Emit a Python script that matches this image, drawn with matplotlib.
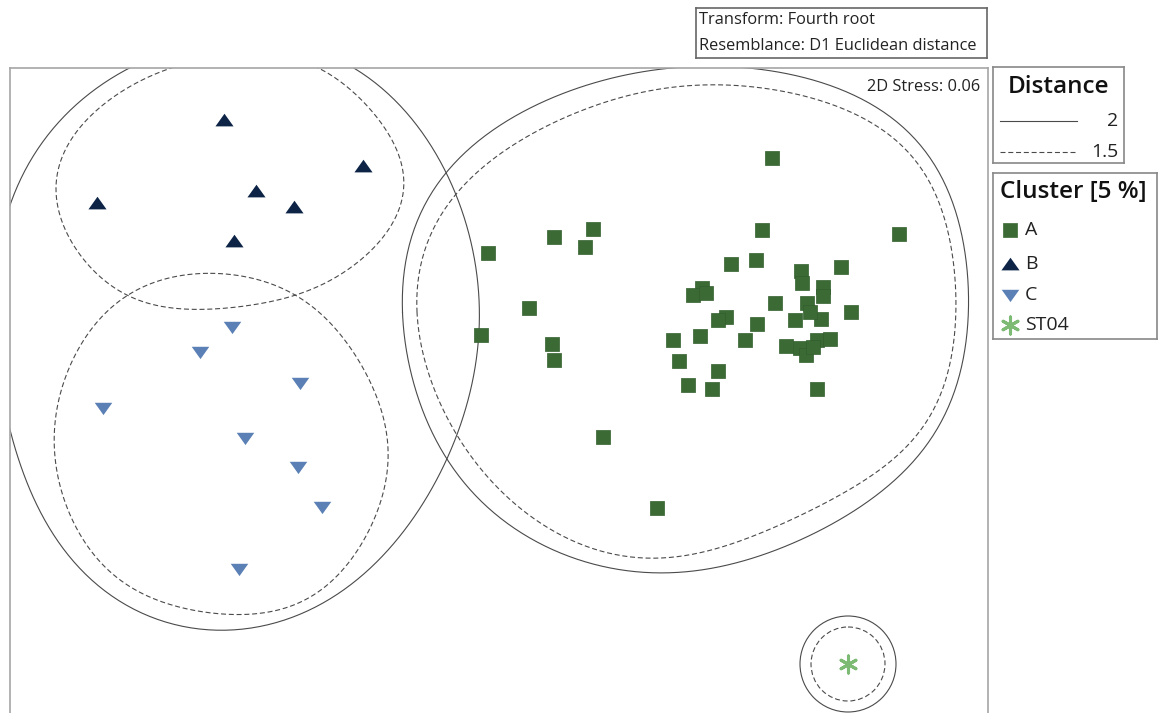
import numpy as np
import matplotlib
matplotlib.use("Agg")
import matplotlib.pyplot as plt
from matplotlib.patches import Circle

plt.rcParams["font.family"] = ["Open Sans", "DejaVu Sans"]

# nMDS ordination coordinates (plot units, y grows downward)
a_x = [772, 762, 899, 488, 554, 593, 585, 529, 481, 552, 554, 731, 756, 801, 841,
       802, 823, 823, 807, 775, 851, 795, 821, 810, 702, 693, 706, 726, 718, 757,
       745, 700, 673, 679, 786, 800, 806, 817, 830, 813, 718, 688, 712, 817, 603, 657]
a_y = [158, 230, 234, 253, 237, 229, 247, 308, 335, 344, 360, 264, 260, 271, 267,
       283, 287, 296, 303, 303, 312, 320, 319, 312, 288, 295, 293, 317, 320, 324,
       340, 336, 340, 361, 346, 348, 355, 340, 339, 347, 371, 385, 389, 389, 437, 508]

b_x = [224, 363, 97, 256, 294, 234]
b_y = [120, 166, 203, 191, 207, 241]

c_x = [232, 200, 300, 103, 245, 298, 322, 239]
c_y = [327, 352, 383, 408, 438, 467, 507, 569]

st04_x = [848]
st04_y = [664]

# cluster overlays: distance 2 (solid) and 1.5 (dashed)
bc_solid_x = [240, 355, 420, 450, 472, 480, 474, 457, 420, 380, 320, 247, 180, 133, 67, 30, 10, -5, 10, 60, 130, 185]
bc_solid_y = [38, 68, 130, 183, 245, 307, 370, 437, 505, 560, 605, 629, 624, 610, 553, 490, 432, 320, 204, 120, 68, 48]

b_dash_x = [245, 320, 367, 395, 402, 397, 367, 297, 210, 127, 80, 56, 67, 97, 173]
b_dash_y = [55, 67, 110, 140, 173, 217, 253, 295, 309, 295, 255, 187, 147, 110, 67]

c_dash_x = [210, 297, 340, 367, 385, 388, 367, 317, 233, 160, 110, 67, 55, 60, 83, 127]
c_dash_y = [274, 295, 335, 377, 420, 460, 533, 593, 615, 600, 573, 507, 440, 390, 343, 295]

a_solid_x = [403, 413, 450, 513, 580, 670, 740, 830, 880, 923, 955, 968, 963, 950, 927, 883, 833, 767, 667, 580, 513, 447, 417]
a_solid_y = [313, 227, 170, 118, 87, 67, 68, 88, 107, 147, 210, 287, 350, 403, 450, 490, 520, 555, 573, 560, 527, 460, 393]

a_dash_x = [417, 425, 463, 520, 580, 697, 800, 880, 930, 950, 953, 947, 937, 900, 850, 780, 677, 580, 500, 457, 425]
a_dash_y = [313, 240, 193, 140, 110, 85, 97, 127, 180, 230, 283, 350, 417, 455, 485, 525, 558, 543, 493, 427, 370]

st04_solid_r = 48
st04_dash_r = 37

green = "#3b6a35"
navy = "#0d2447"
steel = "#5b80b5"
light_green = "#7dbb74"
line_col = "#4a4a4a"


def closed_curve(xs, ys, order=5, n=400):
    # smooth closed outline: low-order Fourier fit over chord-length parameter
    p = np.column_stack([xs, ys]).astype(float)
    seg = np.hypot(*np.diff(np.vstack([p, p[:1]]), axis=0).T)
    t = 2 * np.pi * np.concatenate([[0], np.cumsum(seg)[:-1]]) / seg.sum()

    def basis(tt):
        cols = [np.ones_like(tt)]
        for k in range(1, order + 1):
            cols += [np.cos(k * tt), np.sin(k * tt)]
        return np.column_stack(cols)

    coef, *_ = np.linalg.lstsq(basis(t), p, rcond=None)
    tt = np.linspace(0, 2 * np.pi, n)
    out = basis(tt) @ coef
    return out[:, 0], out[:, 1]


tri_up = [(-1, -0.65), (1, -0.65), (0, 0.75), (-1, -0.65)]
tri_down = [(-1, 0.65), (1, 0.65), (0, -0.75), (-1, 0.65)]

W, H = 1158, 713
fig = plt.figure(figsize=(W / 100, H / 100), dpi=100)

# main ordination panel
ax = fig.add_axes([10 / W, 1 - 715 / H, 978 / W, 647 / H])
ax.set_xlim(10, 988)
ax.set_ylim(715, 68)
ax.set_xticks([])
ax.set_yticks([])
for side in ["left", "top", "right"]:
    ax.spines[side].set_color("#a6a6a6")
    ax.spines[side].set_linewidth(1.2)
ax.spines["bottom"].set_visible(False)

solid_kw = dict(color=line_col, lw=0.8)
dash_kw = dict(color=line_col, lw=0.8, linestyle=(0, (4.5, 2.5)))

for xs, ys in [(bc_solid_x, bc_solid_y), (a_solid_x, a_solid_y)]:
    cx, cy = closed_curve(xs, ys)
    ax.plot(cx, cy, **solid_kw)
for xs, ys in [(b_dash_x, b_dash_y), (c_dash_x, c_dash_y), (a_dash_x, a_dash_y)]:
    cx, cy = closed_curve(xs, ys)
    ax.plot(cx, cy, **dash_kw)

ax.add_patch(Circle((st04_x[0], st04_y[0]), st04_solid_r, fill=False, ec=line_col, lw=0.8))
ax.add_patch(Circle((st04_x[0], st04_y[0]), st04_dash_r, fill=False, ec=line_col, lw=0.8,
                    linestyle=(0, (4.5, 2.5))))

ax.scatter(a_x, a_y, marker="s", s=116, color=green, edgecolors="#335e2e", linewidths=0.5, zorder=3)
ax.scatter(b_x, b_y, marker=tri_up, s=170, color=navy, linewidths=0, zorder=3)
ax.scatter(c_x, c_y, marker=tri_down, s=160, color=steel, linewidths=0, zorder=3)
ax.scatter(st04_x, st04_y, marker=(6, 2, 0), s=150, color=light_green, linewidths=2.2, zorder=3)

ax.text(980, 87, "2D Stress: 0.06", ha="right", va="center", fontsize=11.8, color="#222222")


def box_axes(x0, y0, x1, y1, edge):
    bx = fig.add_axes([x0 / W, 1 - y1 / H, (x1 - x0) / W, (y1 - y0) / H])
    bx.set_xlim(x0, x1)
    bx.set_ylim(y1, y0)
    bx.set_xticks([])
    bx.set_yticks([])
    for sp in bx.spines.values():
        sp.set_color(edge)
        sp.set_linewidth(1.2)
    return bx


# transform / resemblance note
nb = box_axes(696, 8, 987, 58, "#666666")
nb.text(699, 20, "Transform: Fourth root", ha="left", va="center", fontsize=11.8, color="#222222")
nb.text(699, 46, "Resemblance: D1 Euclidean distance", ha="left", va="center", fontsize=11.8, color="#222222")

# distance legend
db = box_axes(993, 67, 1124, 163, "#888888")
db.text(1058, 87, "Distance", ha="center", va="center", fontsize=17.5, fontweight="semibold", color="#111111")
db.plot([1000, 1077], [121, 121], **solid_kw)
db.plot([1000, 1077], [152, 152], **dash_kw)
db.text(1118, 121, "2", ha="right", va="center", fontsize=14, color="#222222")
db.text(1118, 152, "1.5", ha="right", va="center", fontsize=14, color="#222222")

# cluster legend
cb = box_axes(993, 173, 1157, 339, "#888888")
cb.text(1000, 192, "Cluster [5 %]", ha="left", va="center", fontsize=17.5, fontweight="semibold", color="#111111")
legend_rows = [
    ("A", "s", 116, green, 0.5, 230),
    ("B", tri_up, 170, navy, 0, 264),
    ("C", tri_down, 160, steel, 0, 295),
    ("ST04", (6, 2, 0), 150, light_green, 2.2, 325),
]
for label, mk, size, col, lw, yy in legend_rows:
    cb.scatter([1010], [yy], marker=mk, s=size, color=col, linewidths=lw)
    cb.text(1025, yy, label, ha="left", va="center", fontsize=14, color="#222222")

fig.savefig("out.png", dpi=100)
